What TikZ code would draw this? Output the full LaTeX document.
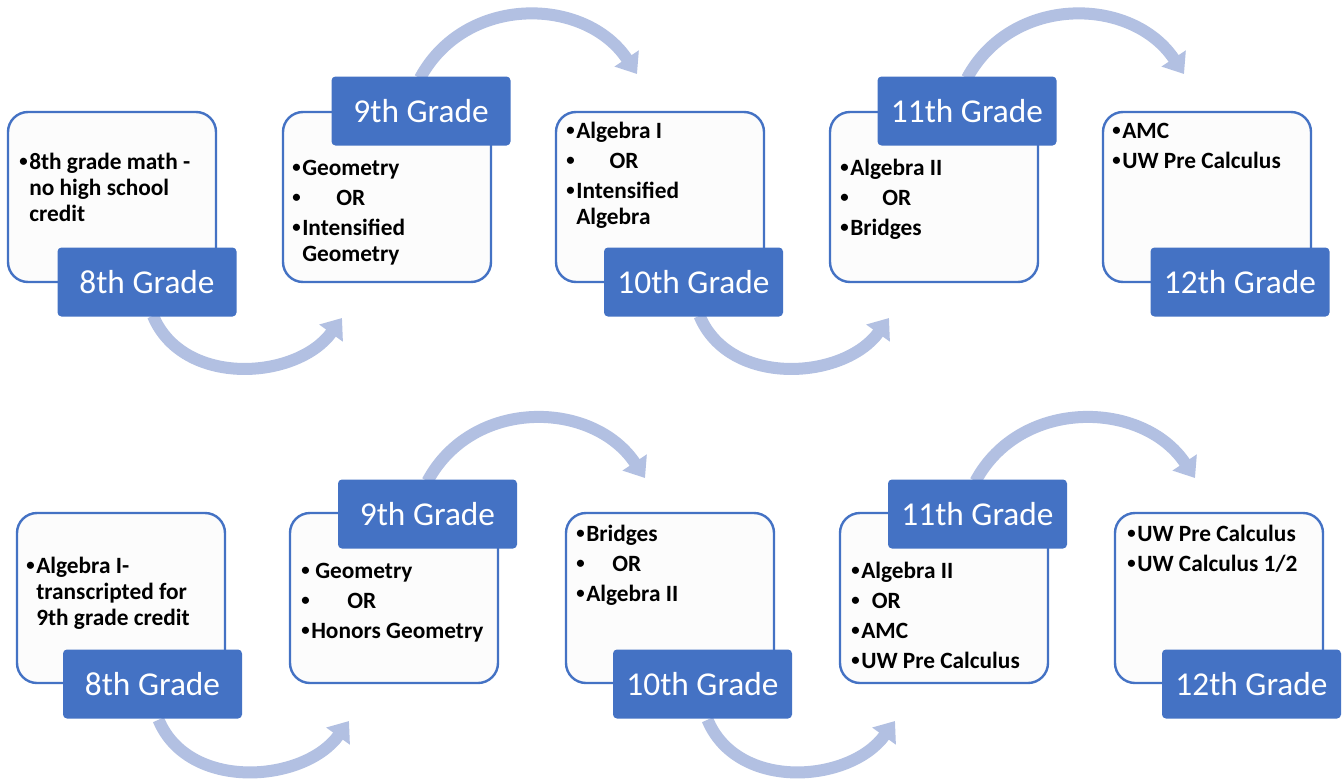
\documentclass[tikz,border=0pt]{standalone}
\usepackage{fontspec}
\usepackage{graphicx}
\setmainfont{Carlito}
\usetikzlibrary{arrows.meta,calc,backgrounds}
\definecolor{gblue}{HTML}{4472C4}
\definecolor{arrc}{RGB}{178,192,226}
\definecolor{boxfill}{HTML}{FCFCFC}
\newcommand\bdot{\raisebox{0.09em}{\scalebox{0.72}{•}}}
\newcommand\bl[1]{\hbox{\makebox[7.5pt][l]{\bdot}#1}}
\newcommand\cl[1]{\hbox{\hspace*{7.5pt}#1}}
\newcommand\pg{\vskip3pt}
\tikzset{
  gbox/.style={draw=gblue, line width=1.8pt, fill=boxfill, rounded corners=15pt,
    minimum width=156pt, minimum height=127.5pt, inner sep=0pt},
  glabel/.style={fill=gblue, rounded corners=3pt, minimum width=134.25pt,
    minimum height=51.75pt, text=white, font=\fontsize{25}{30}\selectfont, inner sep=0pt},
  btxt/.style={anchor=base west, inner sep=0pt, font=\bfseries\fontsize{17.5}{19.5}\selectfont},
  arr/.style={draw=arrc, line width=9pt, -{Triangle[width=21pt,length=14pt]}},
}
\begin{document}
\begin{tikzpicture}[x=0.75pt,y=-0.75pt]
\useasboundingbox (0,0) rectangle (1343,782);
% top row boxes
\node[gbox] (b1) at (112,197) {};
\node[gbox] (b2) at (387,197) {};
\node[gbox] (b3) at (660,197) {};
\node[gbox] (b4) at (934,197) {};
\node[gbox] (b5) at (1207,197) {};
% bottom row boxes
\node[gbox] (c1) at (121,598) {};
\node[gbox] (c2) at (394,598) {};
\node[gbox] (c3) at (670,598) {};
\node[gbox] (c4) at (944,598) {};
\node[gbox] (c5) at (1219,598) {};
% top texts
\node[btxt] (t1) at (19,169) {\vtop{\bl{8th grade math -}\cl{no high school}\cl{credit}}};
\node[btxt] (t2) at (292,175) {\vtop{\bl{Geometry}\pg\bl{\hspace*{25.5pt}OR}\pg\bl{Intensified}\cl{Geometry}}};
\node[btxt] (t3) at (566,138) {\vtop{\bl{Algebra I}\pg\bl{\hspace*{25pt}OR}\pg\bl{Intensified}\cl{Algebra}}};
\node[btxt] (t4) at (840,175) {\vtop{\bl{Algebra II}\pg\bl{\hspace*{24pt}OR}\pg\bl{Bridges}}};
\node[btxt] (t5) at (1112,138) {\vtop{\bl{AMC}\pg\bl{UW Pre Calculus}}};
% bottom texts
\node[btxt] (u1) at (26,573) {\vtop{\bl{Algebra I-}\cl{transcripted for}\cl{9th grade credit}}};
\node[btxt] (u2) at (301,578) {\vtop{\bl{\hspace*{3pt}Geometry}\pg\bl{\hspace*{27pt}OR}\pg\bl{Honors Geometry}}};
\node[btxt] (u3) at (576,541) {\vtop{\bl{Bridges}\pg\bl{\hspace*{19.5pt}OR}\pg\bl{Algebra II}}};
\node[btxt] (u4) at (851,578) {\vtop{\bl{Algebra II}\pg\bl{\hspace*{8pt}OR}\pg\bl{AMC}\pg\bl{UW Pre Calculus}}};
\node[btxt] (u5) at (1127,541) {\vtop{\bl{UW Pre Calculus}\pg\bl{UW Calculus 1/2}}};
% labels
\node[glabel] (l1) at (147,282) {8th Grade};
\node[glabel] (l2) at (421,111) {9th Grade};
\node[glabel] (l3) at (693.5,282) {10th Grade};
\node[glabel] (l4) at (967,111) {11th Grade};
\node[glabel] (l5) at (1240,282) {12th Grade};
\node[glabel] (m1) at (152.5,684) {8th Grade};
\node[glabel] (m2) at (427.5,514) {9th Grade};
\node[glabel] (m3) at (702.5,684) {10th Grade};
\node[glabel] (m4) at (977.5,514) {11th Grade};
\node[glabel] (m5) at (1251.5,684) {12th Grade};
% arrow end points
\coordinate (ea1) at (342,318);
\coordinate (ea2) at (637,74);
\coordinate (ea3) at (889,318);
\coordinate (ea4) at (1184,74);
\coordinate (eb1) at (349,721);
\coordinate (eb2) at (645,478);
\coordinate (eb3) at (895,721);
\coordinate (eb4) at (1195,478);
\begin{scope}[on background layer]
\fill[white] (0,0) rectangle (1343,782);
\draw[arr] ($(l1.south)+(6,-1)$) .. controls +(30,72) and +(-45,62) .. (ea1);
\draw[arr] ($(l2.north)+(-1,2)$) .. controls +(45,-84) and +(-52,-78) .. (ea2);
\draw[arr] ($(l3.south)+(6,-1)$) .. controls +(30,72) and +(-45,62) .. (ea3);
\draw[arr] ($(l4.north)+(0,2)$) .. controls +(45,-84) and +(-52,-78) .. (ea4);
\draw[arr] ($(m1.south)+(6,1)$) .. controls +(30,72) and +(-45,62) .. (eb1);
\draw[arr] ($(m2.north)+(0,2)$) .. controls +(45,-84) and +(-52,-78) .. (eb2);
\draw[arr] ($(m3.south)+(5,1)$) .. controls +(30,72) and +(-45,62) .. (eb3);
\draw[arr] ($(m4.north)+(-2,2)$) .. controls +(45,-84) and +(-52,-78) .. (eb4);
\end{scope}
\end{tikzpicture}
\end{document}
